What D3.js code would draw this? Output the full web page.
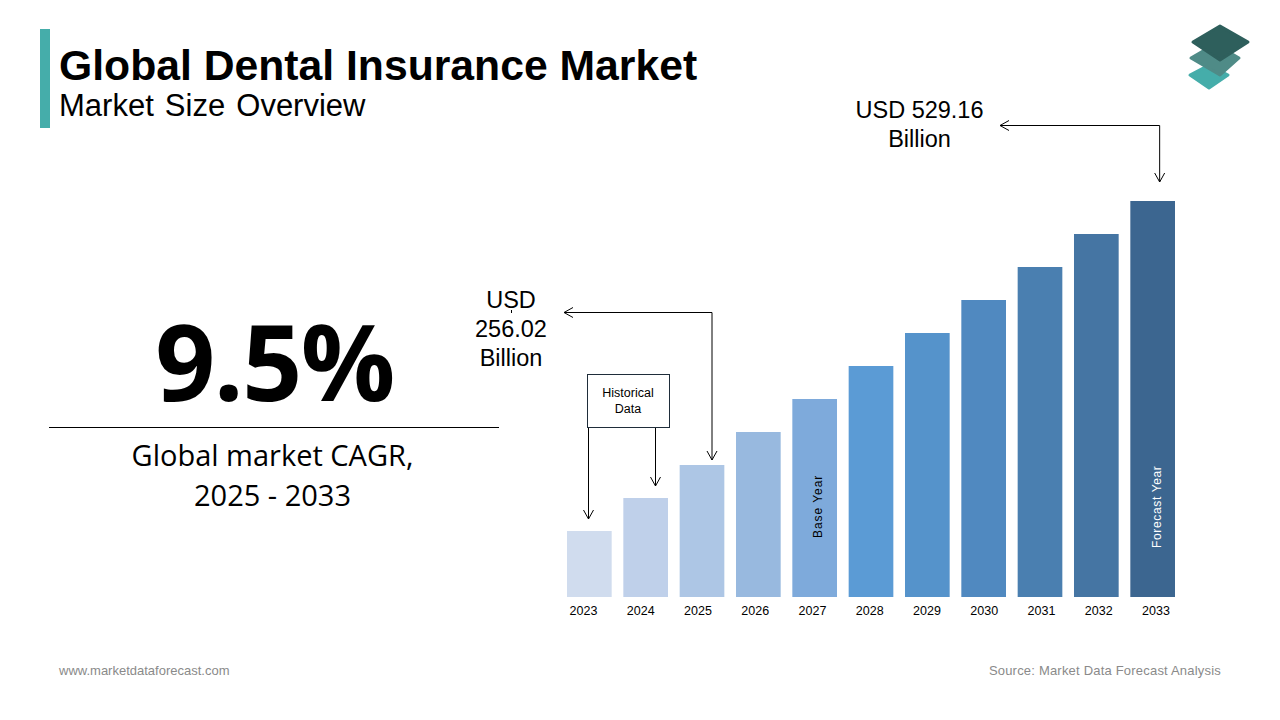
<!DOCTYPE html>
<html>
<head>
<meta charset="utf-8">
<script src="https://cdn.jsdelivr.net/npm/d3@7"></script>
<style>
  html, body { margin: 0; padding: 0; background: #fff; }
  svg { display: block; }
  text { font-family: "Liberation Sans", Arial, sans-serif; fill: #000; }
</style>
</head>
<body>
<div id="chart"></div>
<script>
// bar heights are only relative in the picture, there is no y axis
var years = ["2023","2024","2025","2026","2027","2028","2029","2030","2031","2032","2033"];
var barValues = [20, 30, 40, 50, 60, 70, 80, 90, 100, 110, 120];
var barColors = ["#d0dcee","#bfd0ea","#adc6e5","#98b9df","#7eaadb","#5b9bd5",
  "#5593cb","#5089c0","#4a7fb0","#4575a3","#3c6690"];
var historicalYears = ["2023", "2024"];

var w = 1280;
var h = 720;

var svg = d3.select("#chart")
  .append("svg")
  .attr("width", w)
  .attr("height", h);

var defs = svg.append("defs");
defs.append("marker")
  .attr("id", "arrow")
  .attr("viewBox", "-12 -6 14 12")
  .attr("refX", 0)
  .attr("refY", 0)
  .attr("markerUnits", "userSpaceOnUse")
  .attr("markerWidth", 14)
  .attr("markerHeight", 12)
  .attr("orient", "auto")
  .append("path")
  .attr("d", "M-9,-5 L0,0 L-9,5")
  .attr("fill", "none")
  .attr("stroke", "#000")
  .attr("stroke-width", 1);

var x = d3.scaleBand()
  .domain(years)
  .range([567, 1175])
  .paddingInner(0.207)
  .paddingOuter(0);

// the year labels drift a little from the bars in the original
var xLabel = d3.scalePoint()
  .domain(years)
  .range([583, 1155.5]);

var y = d3.scaleLinear()
  .domain([0, 120])
  .range([597, 201]);

drawHeader();
drawCagr();
drawBars();
drawAnnotations();
drawFooter();

function drawHeader() {
  svg.append("rect")
    .attr("x", 40).attr("y", 29)
    .attr("width", 10).attr("height", 99)
    .attr("fill", "#45adaa");

  svg.append("text")
    .attr("x", 59).attr("y", 80)
    .attr("font-size", 42.7)
    .attr("font-weight", "bold")
    .text("Global Dental Insurance Market");

  svg.append("text")
    .attr("x", 59).attr("y", 115.5)
    .attr("font-size", 31)
    .attr("word-spacing", 2.5)
    .text("Market Size Overview");

  var logo = svg.append("g").attr("id", "logo");
  var layers = [
    { pts: "1209,65 1228,75 1209,88 1190,75", color: "#45adaa" },
    { pts: "1215,44 1239,58 1220,75 1191,58", color: "#4f8b87" },
    { pts: "1220,26 1248,42 1220,60 1193,42", color: "#2e5f5c" }
  ];
  layers.forEach(function(l) {
    logo.append("polygon")
      .attr("points", l.pts)
      .attr("fill", l.color)
      .attr("stroke", l.color)
      .attr("stroke-width", 3)
      .attr("stroke-linejoin", "round");
  });
}

function drawCagr() {
  svg.append("text")
    .attr("x", 274.5).attr("y", 401)
    .attr("text-anchor", "middle")
    .attr("font-size", 105)
    .attr("font-weight", "bold")
    .attr("letter-spacing", -1.5)
    .style("font-family", "'Open Sans', sans-serif")
    .text("9.5%");

  svg.append("line")
    .attr("x1", 49).attr("x2", 499)
    .attr("y1", 427.5).attr("y2", 427.5)
    .attr("stroke", "#000")
    .attr("stroke-width", 1);

  ["Global market CAGR,", "2025 - 2033"].forEach(function(t, i) {
    svg.append("text")
      .attr("x", 272.5).attr("y", 465.5 + i * 40)
      .attr("text-anchor", "middle")
      .attr("font-size", 29)
      .style("font-family", "'Open Sans', sans-serif")
      .text(t);
  });
}

function drawBars() {
  svg.append("g")
    .selectAll("rect")
    .data(years)
    .join("rect")
    .attr("x", function(d) { return x(d); })
    .attr("y", function(d, i) { return y(barValues[i]); })
    .attr("width", x.bandwidth())
    .attr("height", function(d, i) { return y(0) - y(barValues[i]); })
    .attr("fill", function(d, i) { return barColors[i]; });

  var axis = svg.append("g")
    .attr("transform", "translate(0," + y(0) + ")")
    .call(d3.axisBottom(xLabel).tickSize(0).tickPadding(9));
  axis.select(".domain").remove();
  axis.selectAll("text")
    .attr("font-size", 12.5)
    .style("font-family", "'Liberation Sans', Arial, sans-serif")
    .attr("fill", "#000");

  svg.append("text")
    .attr("transform", "translate(822,538) rotate(-90)")
    .attr("font-size", 12)
    .attr("letter-spacing", 0.95)
    .text("Base Year");

  svg.append("text")
    .attr("transform", "translate(1161,548) rotate(-90)")
    .attr("font-size", 12)
    .attr("letter-spacing", 0.65)
    .style("fill", "#fff")
    .text("Forecast Year");
}

function drawAnnotations() {
  var line = d3.line();
  var g = svg.append("g")
    .attr("fill", "none")
    .attr("stroke", "#000")
    .attr("stroke-width", 1);

  function arrow(pts) {
    return g.append("path")
      .attr("d", line(pts))
      .attr("marker-end", "url(#arrow)");
  }

  // forecast value callout, corner sits above the 2033 bar
  var cornerF = x("2033") + x.bandwidth() / 2 + 7;
  arrow([[cornerF, 125.5], [1000, 125.5]]);
  arrow([[cornerF, 125.5], [cornerF, y(120) - 19]]);

  // base value callout, corner sits above the 2025 bar
  var cornerB = x("2025") + x.bandwidth() / 2 + 10;
  arrow([[cornerB, 312.5], [564, 312.5]]);
  arrow([[cornerB, 312.5], [cornerB, y(40) - 5]]);

  // historical data box
  svg.append("rect")
    .attr("x", 587.5).attr("y", 374.5)
    .attr("width", 82).attr("height", 53)
    .attr("fill", "#fff")
    .attr("stroke", "#1f2d3a")
    .attr("stroke-width", 1);

  ["Historical", "Data"].forEach(function(t, i) {
    svg.append("text")
      .attr("x", 628).attr("y", 397 + i * 16)
      .attr("text-anchor", "middle")
      .attr("font-size", 12.5)
      .text(t);
  });

  historicalYears.forEach(function(yr, i) {
    var px = i == 0 ? 588.5 : 655.5;
    arrow([[px, 427.5], [px, y(barValues[years.indexOf(yr)]) - 12]]);
  });

  ["USD 529.16", "Billion"].forEach(function(t, i) {
    svg.append("text")
      .attr("x", 919.5).attr("y", 118 + i * 29)
      .attr("text-anchor", "middle")
      .attr("font-size", 23.5)
      .text(t);
  });

  ["USD", "256.02", "Billion"].forEach(function(t, i) {
    svg.append("text")
      .attr("x", 511).attr("y", 307.5 + i * 29)
      .attr("text-anchor", "middle")
      .attr("font-size", 23.5)
      .text(t);
  });

  svg.append("line")
    .attr("x1", 511.5).attr("x2", 511.5)
    .attr("y1", 310).attr("y2", 313)
    .attr("stroke", "#000")
    .attr("stroke-width", 1);
}

function drawFooter() {
  svg.append("text")
    .attr("x", 59).attr("y", 675)
    .attr("font-size", 13)
    .style("fill", "#8a8a8a")
    .text("www.marketdataforecast.com");

  svg.append("text")
    .attr("x", 1221).attr("y", 675)
    .attr("text-anchor", "end")
    .attr("font-size", 13)
    .attr("letter-spacing", 0.2)
    .style("fill", "#8a8a8a")
    .text("Source: Market Data Forecast Analysis");
}
</script>
</body>
</html>
